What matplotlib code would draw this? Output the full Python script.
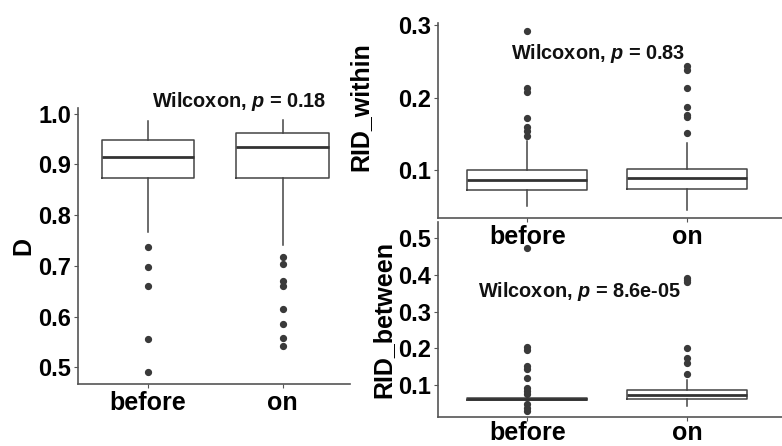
import matplotlib
matplotlib.use("Agg")
import matplotlib.pyplot as plt

plt.rcParams['font.family'] = ['Liberation Sans', 'DejaVu Sans']
plt.rcParams['font.weight'] = 'bold'
plt.rcParams['mathtext.fontset'] = 'custom'
plt.rcParams['mathtext.it'] = 'Liberation Sans:italic:bold'
plt.rcParams['mathtext.rm'] = 'Liberation Sans:bold'

groups = ['before', 'on']

# D panel: whislo, q1, med, q3, whishi, outliers
d_stats = [
    [0.767, 0.873, 0.914, 0.948, 0.986],
    [0.741, 0.872, 0.934, 0.961, 0.988],
]
d_fliers = [
    [0.736, 0.697, 0.660, 0.555, 0.490],
    [0.718, 0.704, 0.669, 0.661, 0.615, 0.586, 0.558, 0.541],
]

within_stats = [
    [0.0506, 0.0725, 0.0867, 0.101, 0.140],
    [0.046, 0.0748, 0.089, 0.102, 0.138],
]
within_fliers = [
    [0.291, 0.213, 0.207, 0.172, 0.159, 0.154, 0.147],
    [0.243, 0.238, 0.213, 0.187, 0.176, 0.173, 0.152],
]

between_stats = [
    [0.059, 0.059, 0.062, 0.064, 0.064],
    [0.043, 0.0635, 0.074, 0.0875, 0.114],
]
between_fliers = [
    [0.473, 0.203, 0.195, 0.153, 0.144, 0.119, 0.092, 0.084, 0.077, 0.050, 0.039, 0.031],
    [0.393, 0.386, 0.380, 0.2016, 0.173, 0.161, 0.130],
]

line_col = '#444444'
spine_col = '#555555'


def make_stats(stats, fliers):
    out = []
    for name, s, f in zip(groups, stats, fliers):
        out.append(dict(label=name, whislo=s[0], q1=s[1], med=s[2], q3=s[3],
                        whishi=s[4], fliers=f))
    return out


def draw(ax, stats, fliers, width, ylabel, yticks, ylim, xlim, text, tx, ty, xpad=2):
    ax.bxp(make_stats(stats, fliers), positions=[1, 2], widths=width,
           showcaps=False,
           boxprops=dict(color=line_col, linewidth=1.1),
           whiskerprops=dict(color=line_col, linewidth=1.1),
           medianprops=dict(color='#333333', linewidth=2.0),
           flierprops=dict(marker='o', markersize=4.2, markerfacecolor='#3a3a3a',
                           markeredgecolor='#3a3a3a'))
    ax.set_xlim(*xlim)
    ax.set_ylim(*ylim)
    ax.set_yticks(yticks)
    ax.set_xticks([1, 2])
    ax.set_xticklabels(groups, fontsize=18, fontweight='bold')
    ax.tick_params(axis='y', labelsize=17, length=3, color=spine_col, pad=2)
    ax.tick_params(axis='x', length=3, color=spine_col, pad=xpad)
    ax.set_ylabel(ylabel, fontsize=18, fontweight='bold', labelpad=2)
    for s in ['top', 'right']:
        ax.spines[s].set_visible(False)
    for s in ['left', 'bottom']:
        ax.spines[s].set_color(spine_col)
        ax.spines[s].set_linewidth(1.2)
    ax.text(tx, ty, text, fontsize=14.3, fontweight='bold', color='#111111',
            ha='left', va='center', clip_on=False)


fig = plt.figure(figsize=(7.82, 4.46), dpi=100)

ax1 = fig.add_axes([0.0997, 0.139, 0.348, 0.619])
draw(ax1, d_stats, d_fliers, 0.69, 'D', [0.5, 0.6, 0.7, 0.8, 0.9, 1.0],
     (0.467, 1.011), (0.48, 2.5), 'Wilcoxon, $p$ = 0.18', 1.03, 1.024)
ax1.set_yticklabels(['0.5', '0.6', '0.7', '0.8', '0.9', '1.0'])

ax3 = fig.add_axes([0.5597, 0.066, 0.44, 0.436])
draw(ax3, between_stats, between_fliers, 0.75, 'RID_between', [0.1, 0.2, 0.3, 0.4, 0.5],
     (0.0145, 0.544), (0.44, 2.59), 'Wilcoxon, $p$ = 8.6e-05', 0.69, 0.355, xpad=0)

ax2 = fig.add_axes([0.5597, 0.511, 0.44, 0.437])
ax2.patch.set_alpha(0)
draw(ax2, within_stats, within_fliers, 0.75, 'RID_within', [0.1, 0.2, 0.3],
     (0.0346, 0.302), (0.44, 2.59), 'Wilcoxon, $p$ = 0.83', 0.9, 0.261)
ax2.yaxis.set_label_coords(-0.19, 0.57)

fig.savefig('out.png', dpi=100)
